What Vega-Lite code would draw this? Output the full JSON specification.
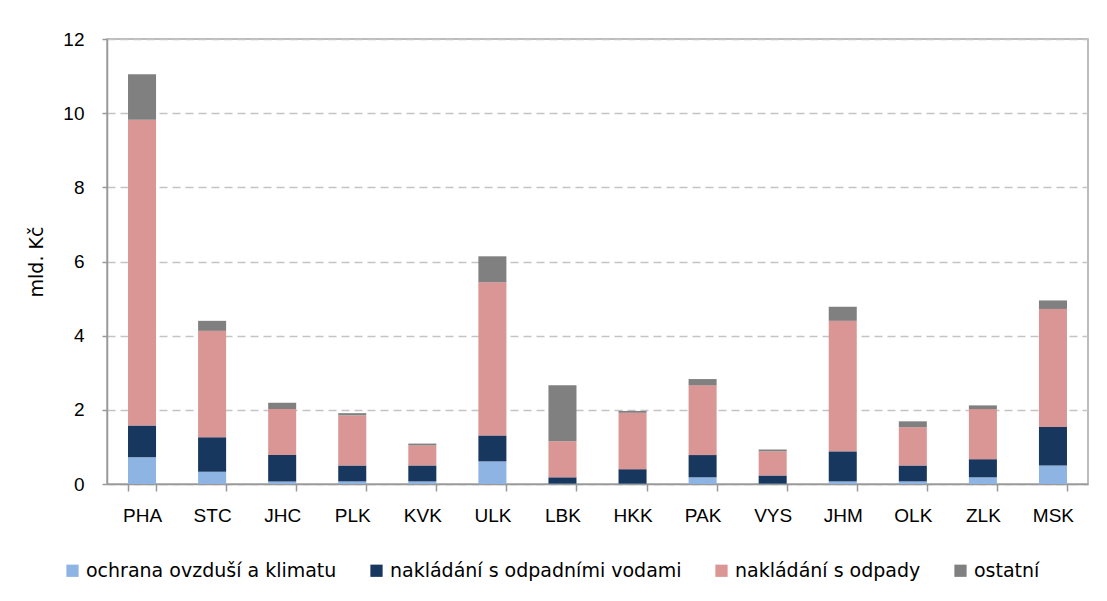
{
  "$schema": "https://vega.github.io/schema/vega-lite/v6.json",
  "width": 981,
  "height": 445,
  "autosize": {"type": "none"},
  "padding": {"left": 107, "top": 39, "right": 19, "bottom": 117},
  "background": "white",
  "config": {
    "view": {"stroke": "#A6A6A6", "strokeWidth": 1.5},
    "font": "Liberation Sans"
  },
  "data": {
    "values": [
      {"kraj": "PHA", "typ": "ochrana ovzduší a klimatu", "k": 1, "v": 0.72},
      {"kraj": "PHA", "typ": "nakládání s odpadními vodami", "k": 2, "v": 0.86},
      {"kraj": "PHA", "typ": "nakládání s odpady", "k": 3, "v": 8.24},
      {"kraj": "PHA", "typ": "ostatní", "k": 4, "v": 1.23},
      {"kraj": "STC", "typ": "ochrana ovzduší a klimatu", "k": 1, "v": 0.33},
      {"kraj": "STC", "typ": "nakládání s odpadními vodami", "k": 2, "v": 0.93},
      {"kraj": "STC", "typ": "nakládání s odpady", "k": 3, "v": 2.87},
      {"kraj": "STC", "typ": "ostatní", "k": 4, "v": 0.27},
      {"kraj": "JHC", "typ": "ochrana ovzduší a klimatu", "k": 1, "v": 0.07},
      {"kraj": "JHC", "typ": "nakládání s odpadními vodami", "k": 2, "v": 0.71},
      {"kraj": "JHC", "typ": "nakládání s odpady", "k": 3, "v": 1.24},
      {"kraj": "JHC", "typ": "ostatní", "k": 4, "v": 0.17},
      {"kraj": "PLK", "typ": "ochrana ovzduší a klimatu", "k": 1, "v": 0.07},
      {"kraj": "PLK", "typ": "nakládání s odpadními vodami", "k": 2, "v": 0.43},
      {"kraj": "PLK", "typ": "nakládání s odpady", "k": 3, "v": 1.35},
      {"kraj": "PLK", "typ": "ostatní", "k": 4, "v": 0.06},
      {"kraj": "KVK", "typ": "ochrana ovzduší a klimatu", "k": 1, "v": 0.07},
      {"kraj": "KVK", "typ": "nakládání s odpadními vodami", "k": 2, "v": 0.43},
      {"kraj": "KVK", "typ": "nakládání s odpady", "k": 3, "v": 0.54},
      {"kraj": "KVK", "typ": "ostatní", "k": 4, "v": 0.05},
      {"kraj": "ULK", "typ": "ochrana ovzduší a klimatu", "k": 1, "v": 0.61},
      {"kraj": "ULK", "typ": "nakládání s odpadními vodami", "k": 2, "v": 0.70},
      {"kraj": "ULK", "typ": "nakládání s odpady", "k": 3, "v": 4.13},
      {"kraj": "ULK", "typ": "ostatní", "k": 4, "v": 0.70},
      {"kraj": "LBK", "typ": "ochrana ovzduší a klimatu", "k": 1, "v": 0.01},
      {"kraj": "LBK", "typ": "nakládání s odpadními vodami", "k": 2, "v": 0.17},
      {"kraj": "LBK", "typ": "nakládání s odpady", "k": 3, "v": 0.97},
      {"kraj": "LBK", "typ": "ostatní", "k": 4, "v": 1.51},
      {"kraj": "HKK", "typ": "ochrana ovzduší a klimatu", "k": 1, "v": 0.01},
      {"kraj": "HKK", "typ": "nakládání s odpadními vodami", "k": 2, "v": 0.39},
      {"kraj": "HKK", "typ": "nakládání s odpady", "k": 3, "v": 1.52},
      {"kraj": "HKK", "typ": "ostatní", "k": 4, "v": 0.05},
      {"kraj": "PAK", "typ": "ochrana ovzduší a klimatu", "k": 1, "v": 0.18},
      {"kraj": "PAK", "typ": "nakládání s odpadními vodami", "k": 2, "v": 0.60},
      {"kraj": "PAK", "typ": "nakládání s odpady", "k": 3, "v": 1.88},
      {"kraj": "PAK", "typ": "ostatní", "k": 4, "v": 0.17},
      {"kraj": "VYS", "typ": "ochrana ovzduší a klimatu", "k": 1, "v": 0.01},
      {"kraj": "VYS", "typ": "nakládání s odpadními vodami", "k": 2, "v": 0.22},
      {"kraj": "VYS", "typ": "nakládání s odpady", "k": 3, "v": 0.65},
      {"kraj": "VYS", "typ": "ostatní", "k": 4, "v": 0.05},
      {"kraj": "JHM", "typ": "ochrana ovzduší a klimatu", "k": 1, "v": 0.07},
      {"kraj": "JHM", "typ": "nakládání s odpadními vodami", "k": 2, "v": 0.81},
      {"kraj": "JHM", "typ": "nakládání s odpady", "k": 3, "v": 3.52},
      {"kraj": "JHM", "typ": "ostatní", "k": 4, "v": 0.38},
      {"kraj": "OLK", "typ": "ochrana ovzduší a klimatu", "k": 1, "v": 0.07},
      {"kraj": "OLK", "typ": "nakládání s odpadními vodami", "k": 2, "v": 0.43},
      {"kraj": "OLK", "typ": "nakládání s odpady", "k": 3, "v": 1.03},
      {"kraj": "OLK", "typ": "ostatní", "k": 4, "v": 0.16},
      {"kraj": "ZLK", "typ": "ochrana ovzduší a klimatu", "k": 1, "v": 0.18},
      {"kraj": "ZLK", "typ": "nakládání s odpadními vodami", "k": 2, "v": 0.49},
      {"kraj": "ZLK", "typ": "nakládání s odpady", "k": 3, "v": 1.35},
      {"kraj": "ZLK", "typ": "ostatní", "k": 4, "v": 0.10},
      {"kraj": "MSK", "typ": "ochrana ovzduší a klimatu", "k": 1, "v": 0.50},
      {"kraj": "MSK", "typ": "nakládání s odpadními vodami", "k": 2, "v": 1.04},
      {"kraj": "MSK", "typ": "nakládání s odpady", "k": 3, "v": 3.18},
      {"kraj": "MSK", "typ": "ostatní", "k": 4, "v": 0.23}
    ]
  },
  "mark": {"type": "bar"},
  "encoding": {
    "x": {
      "field": "kraj",
      "type": "nominal",
      "sort": null,
      "scale": {"paddingInner": 0.6, "paddingOuter": 0.3},
      "axis": {
        "title": null,
        "labelAngle": 0,
        "labelFont": "Liberation Sans",
        "labelFontSize": 19,
        "labelColor": "#000000",
        "labelPadding": 15,
        "tickBand": "extent",
        "tickSize": 7,
        "tickColor": "#999999",
        "tickWidth": 1.5,
        "domainColor": "#999999",
        "domainWidth": 1.5,
        "grid": false
      }
    },
    "y": {
      "field": "v",
      "type": "quantitative",
      "stack": "zero",
      "scale": {"domain": [0, 12], "nice": false},
      "axis": {
        "title": "mld. Kč",
        "titleFont": "DejaVu Sans",
        "titleFontSize": 19,
        "titleFontWeight": "normal",
        "titleColor": "#000000",
        "titlePadding": 16,
        "values": [0, 2, 4, 6, 8, 10, 12],
        "labelFont": "Liberation Sans",
        "labelFontSize": 19,
        "labelColor": "#000000",
        "labelPadding": 18,
        "tickSize": 5,
        "tickColor": "#999999",
        "tickWidth": 1.5,
        "domainColor": "#999999",
        "domainWidth": 1.5,
        "grid": true,
        "gridColor": "#C4C4C4",
        "gridWidth": 1.5,
        "gridDash": [8, 5]
      }
    },
    "color": {
      "field": "typ",
      "type": "nominal",
      "scale": {
        "domain": ["ochrana ovzduší a klimatu", "nakládání s odpadními vodami", "nakládání s odpady", "ostatní"],
        "range": ["#8DB4E2", "#17375E", "#DA9694", "#808080"]
      },
      "legend": {
        "title": null,
        "orient": "none",
        "direction": "horizontal",
        "legendX": -44,
        "legendY": 522,
        "symbolType": "square",
        "symbolSize": 150,
        "symbolStrokeWidth": 0,
        "labelFont": "DejaVu Sans",
        "labelFontSize": 19,
        "labelColor": "#000000",
        "labelOffset": 4,
        "columnPadding": 30,
        "labelLimit": 450
      }
    },
    "order": {"field": "k", "type": "quantitative", "sort": "ascending"}
  }
}
